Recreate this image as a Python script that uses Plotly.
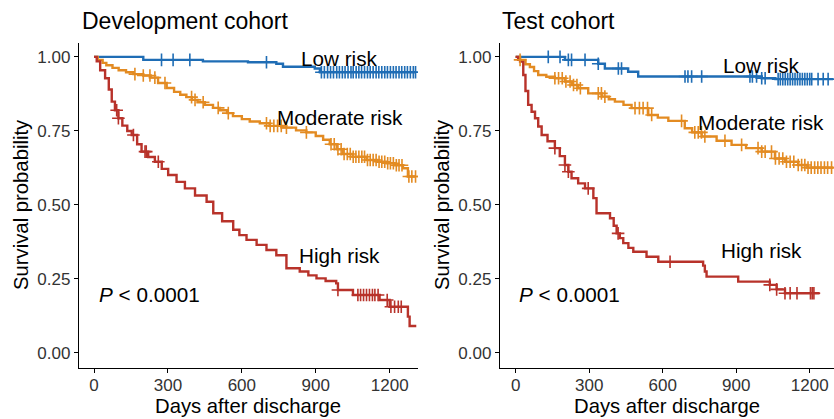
import numpy as np
import plotly.graph_objects as go

# ---------------- Data ----------------
# Development cohort
dev_low_t = [0, 200, 442, 625, 740, 767, 896, 917, 1305]
dev_low_s = [1.0, 0.99, 0.985, 0.982, 0.977, 0.967, 0.961, 0.948, 0.948]
dev_low_c = [274, 321, 389, 700, 923, 935, 948, 960, 972, 985, 996, 1008, 1019, 1031, 1043,
             1052, 1064, 1075, 1086, 1098, 1110, 1121, 1133, 1145, 1156, 1168, 1180, 1191,
             1203, 1215, 1226, 1238, 1249, 1261, 1272, 1284, 1296, 1305]

dev_mod_t = [0, 15, 35, 50, 75, 100, 130, 160, 200, 230, 260, 295, 325, 350, 375, 397, 420, 450,
             483, 510, 540, 564, 600, 632, 673, 713, 767, 820, 862, 900, 930, 957, 985, 1011,
             1050, 1106, 1150, 1187, 1220, 1254, 1274, 1305]
dev_mod_s = [1.0, 0.99, 0.98, 0.972, 0.963, 0.955, 0.948, 0.942, 0.937, 0.93, 0.912, 0.895,
             0.882, 0.872, 0.864, 0.855, 0.847, 0.838, 0.828, 0.82, 0.81, 0.80, 0.79, 0.782,
             0.776, 0.767, 0.761, 0.752, 0.745, 0.733, 0.72, 0.705, 0.688, 0.672, 0.663, 0.652,
             0.646, 0.641, 0.634, 0.624, 0.596, 0.596]
dev_mod_c = [166, 200, 227, 247, 288, 396, 410, 443, 504, 545, 700, 715, 730, 745, 760, 781, 862,
             962, 975, 990, 1003, 1015, 1028, 1040, 1052, 1063, 1075, 1087, 1098, 1110, 1121,
             1133, 1145, 1157, 1168, 1180, 1192, 1203, 1215, 1227, 1238, 1250, 1278, 1290, 1305]

dev_high_t = [0, 11, 25, 45, 60, 72, 85, 99, 115, 135, 153, 175, 193, 220, 247, 275, 301, 335,
              369, 410, 457, 484, 520, 565, 590, 619, 660, 700, 740, 781, 835, 870, 903, 940,
              983, 990, 1051, 1159, 1200, 1274, 1281, 1308]
dev_high_s = [1.0, 0.985, 0.955, 0.928, 0.89, 0.849, 0.82, 0.793, 0.768, 0.75, 0.736, 0.705,
              0.68, 0.662, 0.646, 0.622, 0.601, 0.578, 0.556, 0.532, 0.511, 0.472, 0.445,
              0.416, 0.398, 0.382, 0.365, 0.348, 0.33, 0.286, 0.275, 0.262, 0.252, 0.243,
              0.235, 0.213, 0.196, 0.179, 0.156, 0.123, 0.091, 0.091]
dev_high_c = [92, 99, 160, 207, 212, 261, 990, 1071, 1082, 1094, 1106, 1118, 1130, 1140, 1153,
              1190, 1205, 1220, 1235, 1247]

# Test cohort
test_low_t = [0, 201, 337, 364, 459, 500, 1004, 1060, 1295]
test_low_s = [1.0, 0.99, 0.977, 0.961, 0.95, 0.934, 0.928, 0.925, 0.925]
test_low_c = [133, 181, 215, 228, 283, 337, 419, 432, 691, 703, 718, 759, 956, 966, 983, 1004,
              1018, 1071, 1080, 1090, 1100, 1110, 1120, 1130, 1140, 1150, 1160, 1170, 1180,
              1190, 1200, 1208, 1234, 1255, 1275]

test_mod_t = [0, 18, 40, 58, 75, 92, 125, 160, 201, 230, 255, 296, 351, 380, 405, 440, 473,
              541, 580, 623, 690, 720, 759, 820, 881, 940, 1004, 1058, 1100, 1153, 1190, 1295]
test_mod_s = [1.0, 0.99, 0.975, 0.966, 0.952, 0.939, 0.933, 0.928, 0.917, 0.905, 0.894, 0.877,
              0.866, 0.857, 0.849, 0.838, 0.827, 0.804, 0.795, 0.784, 0.759, 0.745, 0.731,
              0.717, 0.703, 0.692, 0.68, 0.657, 0.646, 0.635, 0.626, 0.626]
test_mod_c = [18, 160, 175, 190, 205, 222, 236, 250, 264, 337, 350, 364, 487, 505, 520, 538,
              555, 677, 731, 745, 758, 772, 854, 922, 989, 1004, 1018, 1044, 1060, 1075, 1090,
              1105, 1120, 1135, 1153, 1167, 1180, 1193, 1206, 1220, 1233, 1246, 1260, 1273, 1289]

test_high_t = [0, 10, 18, 31, 40, 51, 65, 79, 92, 106, 130, 160, 180, 201, 215, 228, 255, 283,
               317, 330, 385, 400, 412, 425, 439, 460, 480, 534, 582, 765, 772, 779, 908, 1037,
               1065, 1099, 1240]
test_high_s = [1.0, 0.99, 0.984, 0.939, 0.885, 0.838, 0.815, 0.793, 0.765, 0.736, 0.715, 0.692,
               0.665, 0.635, 0.612, 0.59, 0.573, 0.556, 0.523, 0.472, 0.455, 0.43, 0.404,
               0.388, 0.371, 0.355, 0.342, 0.325, 0.308, 0.295, 0.275, 0.258, 0.241, 0.23,
               0.215, 0.202, 0.202]
test_high_c = [160, 201, 215, 296, 418, 630, 1037, 1065, 1099, 1120, 1148, 1203, 1210, 1217]

x_ticks = [0, 300, 600, 900, 1200]
y_ticks = [0.0, 0.25, 0.5, 0.75, 1.0]
y_tick_text = ["0.00", "0.25", "0.50", "0.75", "1.00"]

BLUE = "#1f6db5"
ORANGE = "#e38b22"
RED = "#b8322a"

panels = [
    ("x", "y", [(dev_low_t, dev_low_s, dev_low_c, BLUE),
                (dev_mod_t, dev_mod_s, dev_mod_c, ORANGE),
                (dev_high_t, dev_high_s, dev_high_c, RED)]),
    ("x2", "y2", [(test_low_t, test_low_s, test_low_c, BLUE),
                  (test_mod_t, test_mod_s, test_mod_c, ORANGE),
                  (test_high_t, test_high_s, test_high_c, RED)]),
]

fig = go.Figure()


def step_value(t, s, c):
    t = np.asarray(t)
    s = np.asarray(s)
    idx = np.searchsorted(t, np.asarray(c), side="right") - 1
    return s[np.clip(idx, 0, len(s) - 1)]


for xa, ya, curves in panels:
    for t, s, c, col in curves:
        fig.add_trace(go.Scatter(x=t, y=s, mode="lines", line=dict(color=col, width=2.4, shape="hv"),
                                 xaxis=xa, yaxis=ya, showlegend=False, hoverinfo="skip"))
    for t, s, c, col in curves:
        fig.add_trace(go.Scatter(x=c, y=step_value(t, s, c), mode="markers",
                                 marker=dict(symbol="cross-thin-open", size=9, color=col,
                                             line=dict(color=col, width=1.6)),
                                 xaxis=xa, yaxis=ya, showlegend=False, hoverinfo="skip"))

FONT = "Arial, Liberation Sans, Helvetica, sans-serif"
axis_common = dict(showline=True, linecolor="black", linewidth=1.3, ticks="outside",
                   ticklen=4, tickwidth=1.1, tickcolor="black", showgrid=False, zeroline=False,
                   tickfont=dict(size=17, color="#333333", family=FONT))

fig.update_layout(
    width=834, height=419, autosize=False,
    margin=dict(l=0, r=0, t=0, b=0),
    paper_bgcolor="white", plot_bgcolor="white",
    font=dict(family=FONT, color="black"),
    xaxis=dict(domain=[0.0947, 0.5012], range=[-61, 1315], tickvals=x_ticks,
               ticklabelstandoff=-3, **axis_common),
    yaxis=dict(domain=[0.1217, 0.8974], range=[-0.0507, 1.047], tickvals=y_ticks,
               ticktext=y_tick_text, **axis_common),
    xaxis2=dict(domain=[0.5995, 1.0], range=[-64, 1299], tickvals=x_ticks, anchor="y2",
                ticklabelstandoff=-3, **axis_common),
    yaxis2=dict(domain=[0.1217, 0.8974], range=[-0.0507, 1.047], tickvals=y_ticks,
                ticktext=y_tick_text, anchor="x2", **axis_common),
)

ann = []
# Titles
ann.append(dict(text="Development cohort", x=80 / 834, y=1 - 21 / 419, xref="paper", yref="paper",
                xanchor="left", yanchor="middle", showarrow=False, font=dict(size=23)))
ann.append(dict(text="Test cohort", x=500 / 834, y=1 - 21 / 419, xref="paper", yref="paper",
                xanchor="left", yanchor="middle", showarrow=False, font=dict(size=23)))
# Axis titles
for xc, yc in [(248 / 834, 1 - 406 / 419), (667 / 834, 1 - 406 / 419)]:
    ann.append(dict(text="Days after discharge", x=xc, y=yc, xref="paper", yref="paper",
                    xanchor="center", yanchor="middle", showarrow=False, font=dict(size=20.3)))
for xc in [21 / 834, 442 / 834]:
    ann.append(dict(text="Survival probability", x=xc, y=1 - 205 / 419, xref="paper", yref="paper",
                    xanchor="center", yanchor="middle", textangle=-90, showarrow=False,
                    font=dict(size=20.3)))

labels = [
    ("x", "y", "Low risk", 997, 0.995),
    ("x", "y", "Moderate risk", 999, 0.795),
    ("x", "y", "High risk", 997, 0.328),
    ("x2", "y2", "Low risk", 1003, 0.972),
    ("x2", "y2", "Moderate risk", 1003, 0.78),
    ("x2", "y2", "High risk", 1005, 0.345),
]
for xa, ya, txt, xv, yv in labels:
    ann.append(dict(text=txt, x=xv, y=yv, xref=xa, yref=ya, xanchor="center", yanchor="middle",
                    showarrow=False, font=dict(size=20.7)))
for xa, ya, xv in [("x", "y", 12), ("x2", "y2", 5)]:
    ann.append(dict(text="<i>P</i> < 0.0001", x=xv, y=0.197, xref=xa, yref=ya, xanchor="left",
                    yanchor="middle", showarrow=False, font=dict(size=20.7)))

fig.update_layout(annotations=ann)
fig.write_html("out.html", config={"displayModeBar": False},
               post_script="document.body.style.margin='0px';")
